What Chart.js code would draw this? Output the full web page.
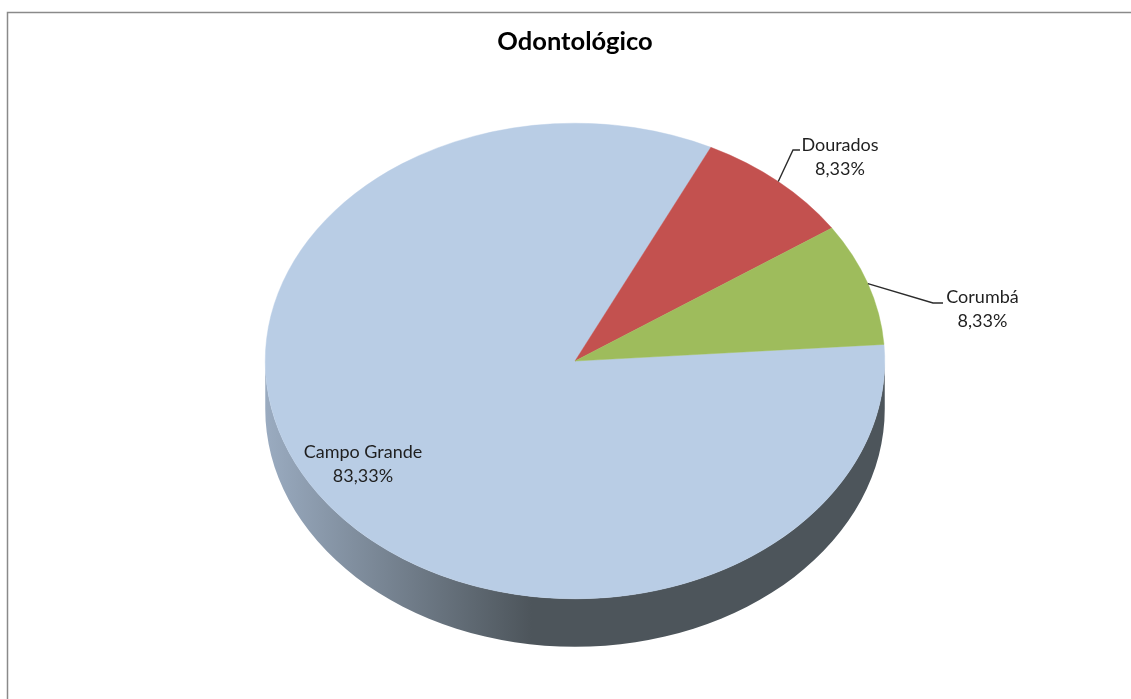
<!DOCTYPE html>
<html lang="pt-BR">
<head>
<meta charset="utf-8">
<title>Odontológico</title>
<script src="https://cdn.jsdelivr.net/npm/chart.js@4"></script>
<style>
  html, body { margin: 0; padding: 0; background: #fff; }
  #wrap { position: relative; width: 1131px; height: 699px; overflow: hidden; }
</style>
</head>
<body>
<div id="wrap"><canvas id="myChart"></canvas></div>
<script>
const chartTitle = 'Odontológico';
const categories = ['Campo Grande', 'Dourados', 'Corumbá'];
const percentages = [83.33, 8.33, 8.33];
const sliceColors = ['#B9CDE5', '#C3514F', '#9EBC5C'];

// the pie is tilted by squashing the circle Chart.js draws
const squash = 238 / 310;
const depth = 48;

const fontName = 'Lato, "Open Sans", sans-serif';

// label placement, leader lines start on the rim of each slice
const labelBoxes = [
  { centerX: 363, firstLine: 458 },
  { centerX: 840, firstLine: 151, elbow: [793, 150], end: [800, 150] },
  { centerX: 982.5, firstLine: 303, elbow: [933, 303], end: [943, 303] }
];

const framePlugin = {
  id: 'frame',
  beforeDraw(chart) {
    const { ctx, width, height } = chart;
    ctx.save();
    ctx.fillStyle = '#fff';
    ctx.fillRect(0, 0, width, height);
    ctx.strokeStyle = '#8a8a8a';
    ctx.lineWidth = 1.5;
    ctx.beginPath();
    ctx.moveTo(7.5, height);
    ctx.lineTo(7.5, 12.5);
    ctx.lineTo(width, 12.5);
    ctx.stroke();
    ctx.restore();
  }
};

const tiltPlugin = {
  id: 'tilt',
  beforeDatasetsDraw(chart) {
    const { ctx } = chart;
    const arc = chart.getDatasetMeta(0).data[0];
    const { x, y, outerRadius: r } = arc;
    const ry = r * squash;

    // side wall, only the front half is visible
    const wall = ctx.createLinearGradient(x - r, 0, x + r, 0);
    wall.addColorStop(0, '#9AABC0');
    wall.addColorStop(0.43, '#4D555B');
    wall.addColorStop(1, '#4D555B');
    ctx.save();
    ctx.fillStyle = wall;
    ctx.beginPath();
    ctx.ellipse(x, y + depth, r, ry, 0, 0, Math.PI);
    ctx.lineTo(x - r, y);
    ctx.ellipse(x, y, r, ry, 0, Math.PI, 0, true);
    ctx.closePath();
    ctx.fill();
    ctx.restore();

    ctx.save();
    ctx.translate(x, y);
    ctx.scale(1, squash);
    ctx.translate(-x, -y);
  },
  afterDatasetsDraw(chart) {
    chart.ctx.restore();
  }
};

const labelPlugin = {
  id: 'sliceLabels',
  afterDraw(chart) {
    const { ctx } = chart;
    const arcs = chart.getDatasetMeta(0).data;
    ctx.save();
    arcs.forEach((arc, i) => {
      const box = labelBoxes[i];
      if (box.elbow) {
        const mid = (arc.startAngle + arc.endAngle) / 2;
        ctx.strokeStyle = '#2b2b2b';
        ctx.lineWidth = 1.4;
        ctx.beginPath();
        ctx.moveTo(arc.x + arc.outerRadius * Math.cos(mid), arc.y + arc.outerRadius * squash * Math.sin(mid));
        ctx.lineTo(box.elbow[0], box.elbow[1]);
        ctx.lineTo(box.end[0], box.end[1]);
        ctx.stroke();
      }
      ctx.fillStyle = '#1f1f1f';
      ctx.font = '18px ' + fontName;
      ctx.textAlign = 'center';
      ctx.textBaseline = 'alphabetic';
      ctx.fillText(categories[i], box.centerX, box.firstLine);
      ctx.fillText(percentages[i].toFixed(2).replace('.', ',') + '%', box.centerX, box.firstLine + 24);
    });
    ctx.restore();
  }
};

new Chart(document.querySelector('#myChart'), {
  type: 'pie',
  data: {
    labels: categories,
    datasets: [{
      data: percentages,
      backgroundColor: sliceColors,
      borderColor: sliceColors,
      borderWidth: 0.5,
      hoverOffset: 0
    }]
  },
  options: {
    responsive: true,
    maintainAspectRatio: false,
    animation: false,
    rotation: 86,
    layout: {
      padding: { left: 265, right: 246, top: 0, bottom: 28 }
    },
    plugins: {
      legend: { display: false },
      tooltip: { enabled: false },
      title: {
        display: true,
        text: chartTitle,
        color: '#000',
        font: { family: fontName, size: 25.5, weight: 'bold', lineHeight: 1.2 },
        // negative bottom so the title sits low without shrinking the pie
        padding: { top: 26.7, bottom: -6.3 }
      }
    }
  },
  plugins: [framePlugin, tiltPlugin, labelPlugin]
});
</script>
</body>
</html>
